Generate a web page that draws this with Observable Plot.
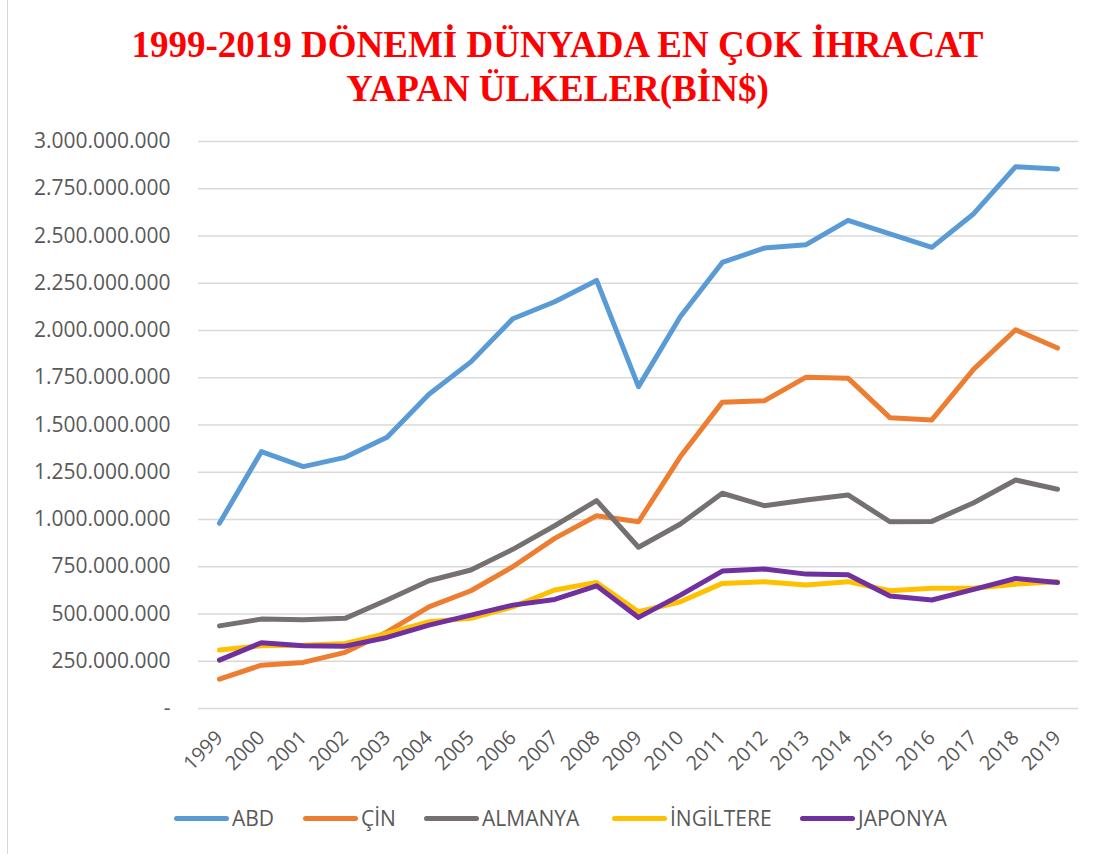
<!DOCTYPE html>
<html>
<head>
<meta charset="utf-8">
<script src="https://cdn.jsdelivr.net/npm/d3@7"></script>
<script src="https://cdn.jsdelivr.net/npm/@observablehq/plot@0.6"></script>
<style>
  body { margin: 0; background: #fff; }
  #wrap { position: relative; width: 1105px; height: 854px; overflow: hidden; }
  #frame { position: absolute; left: 7px; top: -2px; width: 1200px; height: 1000px; border-left: 1px solid #d9d9d9; }
  #title { position: absolute; top: 23px; left: 5px; width: 1105px; text-align: center;
           font-family: "Liberation Serif", "Times New Roman", serif; font-weight: bold; font-size: 37px;
           line-height: 44px; color: #ff0000; }
  #chart { position: absolute; top: 120px; left: 0; }
  #legend { position: absolute; top: 803px; left: 0; width: 1105px; height: 30px;
            font-family: "Open Sans", sans-serif; font-size: 21px; color: #595959; }
  .item { position: absolute; top: 0; height: 30px; display: flex; align-items: center; white-space: nowrap; }
  .sw { width: 55px; height: 5px; border-radius: 3px; margin-right: 3px; }
</style>
</head>
<body>
<div id="wrap">
  <div id="frame"></div>
  <div id="title">1999-2019 DÖNEMİ DÜNYADA EN ÇOK İHRACAT<br>YAPAN ÜLKELER(BİN$)</div>
  <div id="chart"></div>
  <div id="legend"></div>
</div>
<script>
const years = ["1999","2000","2001","2002","2003","2004","2005","2006","2007","2008","2009","2010","2011","2012","2013","2014","2015","2016","2017","2018","2019"];
const seriesNames = ["ABD", "ÇİN", "ALMANYA", "İNGİLTERE", "JAPONYA"];
const seriesColors = ["#5B9BD5", "#ED7D31", "#767171", "#FFC000", "#7030A0"];
const abd = [980e6,1359e6,1280e6,1329e6,1435e6,1663e6,1834e6,2062e6,2152e6,2265e6,1703e6,2074e6,2360e6,2436e6,2454e6,2583e6,2511e6,2440e6,2618e6,2867e6,2855e6];
const cin = [155e6,229e6,244e6,297e6,405e6,538e6,623e6,750e6,900e6,1020e6,988e6,1333e6,1621e6,1628e6,1753e6,1748e6,1539e6,1527e6,1796e6,2004e6,1907e6];
const almanya = [437e6,473e6,469e6,477e6,574e6,676e6,733e6,842e6,967e6,1100e6,853e6,976e6,1139e6,1073e6,1103e6,1130e6,988e6,990e6,1089e6,1209e6,1160e6];
const ingiltere = [309e6,332e6,335e6,344e6,397e6,459e6,477e6,538e6,627e6,667e6,512e6,565e6,662e6,671e6,653e6,671e6,623e6,636e6,636e6,658e6,671e6];
const japonya = [256e6,348e6,332e6,330e6,376e6,441e6,494e6,547e6,577e6,649e6,482e6,600e6,727e6,738e6,711e6,708e6,595e6,574e6,630e6,688e6,667e6];
const yTicks = [0,250e6,500e6,750e6,1000e6,1250e6,1500e6,1750e6,2000e6,2250e6,2500e6,2750e6,3000e6];
const legendLefts = [174, 303, 424, 612, 800];

const allSeries = [abd, cin, almanya, ingiltere, japonya];
const data = [];
seriesNames.forEach((name, si) => {
  years.forEach((yr, i) => data.push({series: name, year: yr, value: allSeries[si][i]}));
});

const fmt = d => d === 0 ? "-" : d3.format(",")(d).replace(/,/g, ".");

const chart = Plot.plot({
  width: 1105,
  height: 680,
  marginTop: 21,
  marginBottom: 92,
  marginLeft: 198,
  marginRight: 27,
  style: {fontFamily: "Open Sans, sans-serif", fontSize: "21px", color: "#595959", background: "transparent"},
  x: {type: "point", domain: years, padding: 0.5, round: false, label: null},
  y: {domain: [0, 3000e6], label: null},
  color: {domain: seriesNames, range: seriesColors},
  marks: [
    Plot.gridY(yTicks, {stroke: "#d9d9d9", strokeOpacity: 1, strokeWidth: 1.5}),
    Plot.axisY(yTicks, {tickSize: 0, tickPadding: 28, tickFormat: fmt, fontSize: 21, label: null, fill: "#595959"}),
    Plot.axisX(years, {tickRotate: -45, tickSize: 0, tickPadding: 26, fontSize: 20, label: null, fill: "#595959"}),
    Plot.line(data, {x: "year", y: "value", z: "series", stroke: "series", strokeWidth: 5,
                     strokeLinejoin: "round", strokeLinecap: "round"})
  ]
});
document.getElementById("chart").appendChild(chart);

const legend = document.getElementById("legend");
seriesNames.forEach((name, i) => {
  const it = document.createElement("div");
  it.className = "item";
  it.style.left = legendLefts[i] + "px";
  const sw = document.createElement("div");
  sw.className = "sw";
  sw.style.background = seriesColors[i];
  const lab = document.createElement("span");
  lab.textContent = name;
  it.appendChild(sw); it.appendChild(lab);
  legend.appendChild(it);
});
</script>
</body>
</html>
